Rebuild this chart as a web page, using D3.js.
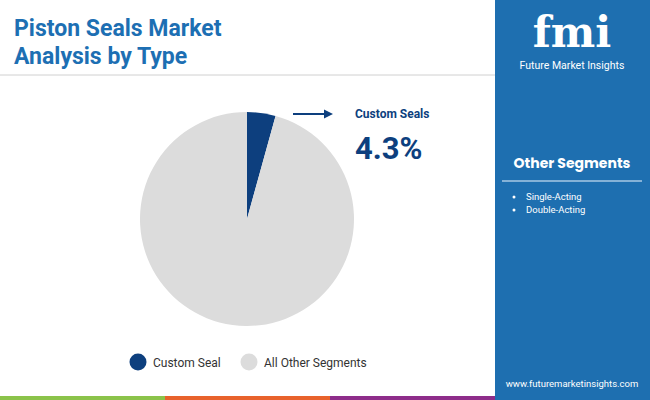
<!DOCTYPE html>
<html><head><meta charset="utf-8">
<script src="https://cdn.jsdelivr.net/npm/d3@7"></script>
<style>body{margin:0;}svg{display:block;font-family:Roboto,sans-serif;}</style>
</head><body><div id="chart"></div>
<script>
var categories = ["Custom Seal", "All Other Segments"];
var values = [4.3, 95.7];
var colors = ["#0d3f7e", "#dcdcdc"];
var otherSegments = ["Single-Acting", "Double-Acting"];

var svg = d3.select("#chart").append("svg").attr("width", 650).attr("height", 400);
svg.append("rect").attr("width", 650).attr("height", 400).attr("fill", "#fff");

// title
svg.append("text").attr("x", 14).attr("y", 36).attr("font-size", 23).attr("font-weight", 700)
	.attr("fill", "#1d6fb3").text("Piston Seals Market");
svg.append("text").attr("x", 14).attr("y", 64).attr("font-size", 23).attr("font-weight", 700)
	.attr("fill", "#1d6fb3").text("Analysis by Type");
svg.append("line").attr("x1", 0).attr("x2", 495).attr("y1", 75).attr("y2", 75)
	.attr("stroke", "#d0d0d0").attr("stroke-width", 1);

// right panel
svg.append("rect").attr("x", 495).attr("y", 0).attr("width", 155).attr("height", 400).attr("fill", "#1e6fb0");
svg.append("text").attr("x", 572).attr("y", 47).attr("text-anchor", "middle").attr("font-size", 42)
	.attr("font-weight", 900).attr("fill", "#fff").attr("font-family", "DejaVu Serif, serif").text("fmi");
svg.append("text").attr("x", 572).attr("y", 69).attr("text-anchor", "middle").attr("font-size", 10.5)
	.attr("fill", "#fff").text("Future Market Insights");
svg.append("text").attr("x", 572).attr("y", 168).attr("text-anchor", "middle").attr("font-size", 14)
	.attr("font-weight", 700).attr("fill", "#fff").attr("font-family", "Poppins, Inter, sans-serif").text("Other Segments");
svg.append("line").attr("x1", 502).attr("x2", 642).attr("y1", 181).attr("y2", 181)
	.attr("stroke", "#a9c8e4").attr("stroke-width", 1.5);
otherSegments.forEach(function(s, i){
	var y = 200 + i * 13;
	svg.append("circle").attr("cx", 514).attr("cy", y - 3).attr("r", 1.5).attr("fill", "#fff");
	svg.append("text").attr("x", 526).attr("y", y).attr("font-size", 9.5).attr("fill", "#fff").text(s);
});
svg.append("text").attr("x", 572).attr("y", 387).attr("text-anchor", "middle").attr("font-size", 9.5)
	.attr("fill", "#fff").text("www.futuremarketinsights.com");

// bottom bars
var barColors = ["#8bc34a", "#e8622c", "#8e2d8a"];
barColors.forEach(function(c, i){
	svg.append("rect").attr("x", i * 165).attr("y", 396).attr("width", 165).attr("height", 4).attr("fill", c);
});

// pie
var pie = d3.pie().sort(null)(values);
var arc = d3.arc().innerRadius(0).outerRadius(107);
svg.append("g").attr("transform", "translate(247,219)")
	.selectAll("path").data(pie).enter().append("path")
	.attr("d", arc).attr("fill", function(d, i){ return colors[i]; });

// annotation
svg.append("line").attr("x1", 293).attr("x2", 326).attr("y1", 114).attr("y2", 114)
	.attr("stroke", "#0d3f7e").attr("stroke-width", 2);
svg.append("path").attr("d", "M333,114 L324,109.5 L324,118.5 Z").attr("fill", "#0d3f7e");
svg.append("text").attr("x", 355).attr("y", 118).attr("font-size", 12).attr("font-weight", 700)
	.attr("fill", "#0d3f7e").text("Custom Seals");
svg.append("text").attr("x", 355).attr("y", 159).attr("font-size", 31).attr("font-weight", 700)
	.attr("fill", "#0d3f7e").text(values[0] + "%");

// legend
var lx = [138, 249];
categories.forEach(function(c, i){
	svg.append("circle").attr("cx", lx[i]).attr("cy", 362).attr("r", 8.5).attr("fill", colors[i]);
	svg.append("text").attr("x", lx[i] + 15).attr("y", 366.5).attr("font-size", 12).attr("fill", "#333").text(c);
});
</script></body></html>
